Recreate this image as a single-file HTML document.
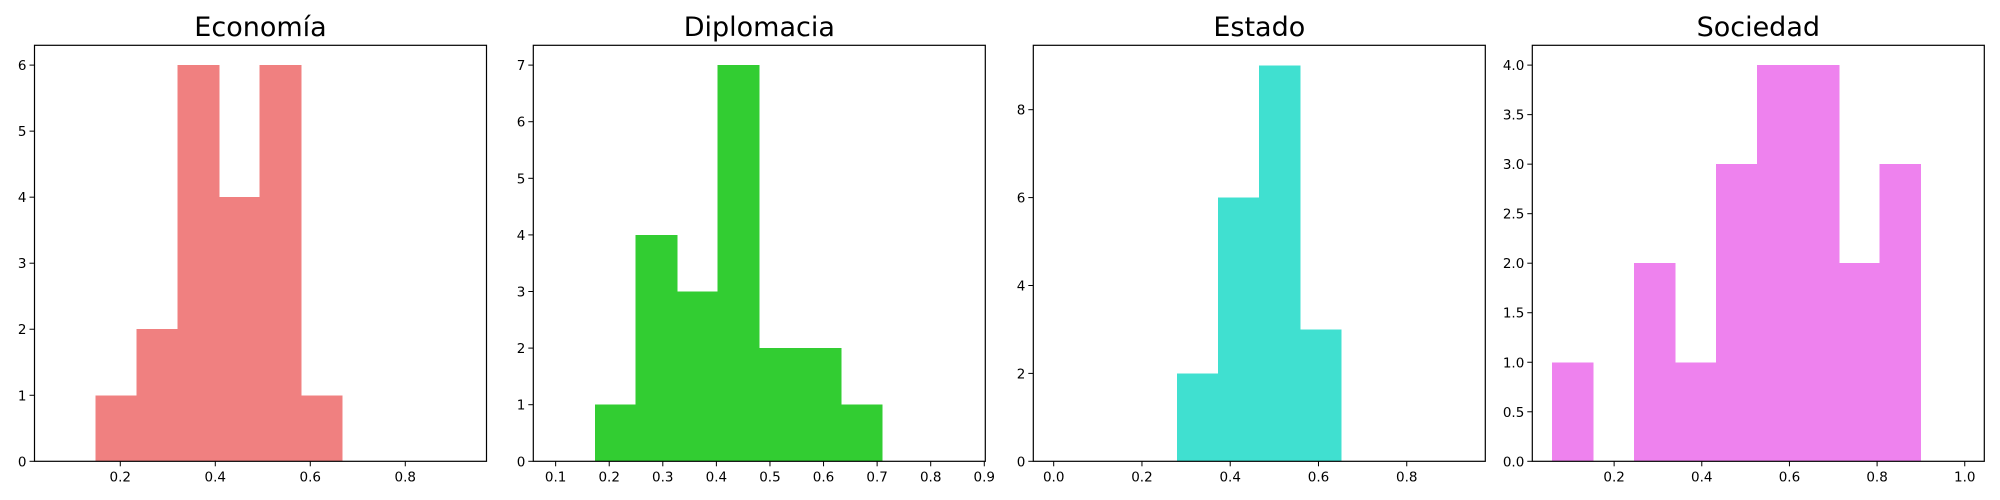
<!DOCTYPE html>
<html><head><meta charset="utf-8"><style>
html,body{margin:0;padding:0;background:#fff;width:2000px;height:500px;overflow:hidden}
svg text{font-family:"DejaVu Sans","Liberation Sans",sans-serif;fill:#000}
</style></head><body>
<svg id="chart" width="2000" height="500" xmlns="http://www.w3.org/2000/svg"></svg>
<script>
const titles = ["Economía","Diplomacia","Estado","Sociedad"];
const colors = ["#F08080","#32CD32","#40E0D0","#EE82EE"];
const binStarts = [0.148, 0.173, 0.2796, 0.0587];
const binWidths = [0.0864, 0.0765, 0.0929, 0.0934];
const countsEconomia = [1,2,6,4,6,1];
const countsDiplomacia = [1,4,3,7,2,2,1];
const countsEstado = [2,6,9,3];
const countsSociedad = [1,0,2,1,3,4,4,2,3];
const xMins = [0.0194, 0.0583, -0.0462, 0.0133];
const xMaxs = [0.971, 0.9019, 0.978, 1.0446];
const yMaxs = [6.30, 7.35, 9.465, 4.2];
const xTicks1 = ["0.2","0.4","0.6","0.8"];
const xTicks2 = ["0.1","0.2","0.3","0.4","0.5","0.6","0.7","0.8","0.9"];
const xTicks3 = ["0.0","0.2","0.4","0.6","0.8"];
const xTicks4 = ["0.2","0.4","0.6","0.8","1.0"];
const yTicks1 = ["0","1","2","3","4","5","6"];
const yTicks2 = ["0","1","2","3","4","5","6","7"];
const yTicks3 = ["0","2","4","6","8"];
const yTicks4 = ["0.0","0.5","1.0","1.5","2.0","2.5","3.0","3.5","4.0"];

const allCounts = [countsEconomia,countsDiplomacia,countsEstado,countsSociedad];
const allXT = [xTicks1,xTicks2,xTicks3,xTicks4];
const allYT = [yTicks1,yTicks2,yTicks3,yTicks4];
const lefts = [34.5, 533.3, 1033.3, 1532.3];
const W = 452, TOP = 45.3, BOT = 461.3;
const NS = "http://www.w3.org/2000/svg";
const svg = document.getElementById('chart');
function mk(tag, attrs, parent){const e=document.createElementNS(NS,tag);for(const k in attrs)e.setAttribute(k,attrs[k]);(parent||svg).appendChild(e);return e;}

for (let p=0;p<4;p++){
  const L=lefts[p], R=L+W;
  const xs = v => L + (v - xMins[p])/(xMaxs[p]-xMins[p])*W;
  const ys = v => BOT - v/yMaxs[p]*(BOT-TOP);
  const g = mk('g',{});
  
  
  const counts = allCounts[p];
  counts.forEach((c,i)=>{
    if(c<=0) return;
    const x0=xs(binStarts[p]+i*binWidths[p]), x1=xs(binStarts[p]+(i+1)*binWidths[p]);
    const r = mk('rect',{x:x0,y:ys(c),width:x1-x0+0.6,height:BOT-ys(c),fill:colors[p],'shape-rendering':'crispEdges'},g);
    
    
  });
  const frame = mk('rect',{x:L,y:TOP,width:W,height:BOT-TOP,fill:'none',stroke:'#000','stroke-width':1.2},g);
  
  
  allXT[p].forEach(t=>{
    const x=xs(parseFloat(t));
    mk('line',{x1:x,x2:x,y1:BOT,y2:BOT+5,stroke:'#000','stroke-width':1},g);
    const tx = mk('text',{x:x,y:BOT+20,'text-anchor':'middle','font-size':13.5},g);
    tx.textContent=t;
    
    
  });
  allYT[p].forEach(t=>{
    const y=ys(parseFloat(t));
    mk('line',{x1:L-5,x2:L,y1:y,y2:y,stroke:'#000','stroke-width':1},g);
    const tx = mk('text',{x:L-8,y:y+5,'text-anchor':'end','font-size':13.5},g);
    tx.textContent=t;
    
    
  });
  const tt = mk('text',{x:L+W/2,y:36,'text-anchor':'middle','font-size':27},g);
  tt.textContent=titles[p];
  
  
}
</script>
</body></html>
